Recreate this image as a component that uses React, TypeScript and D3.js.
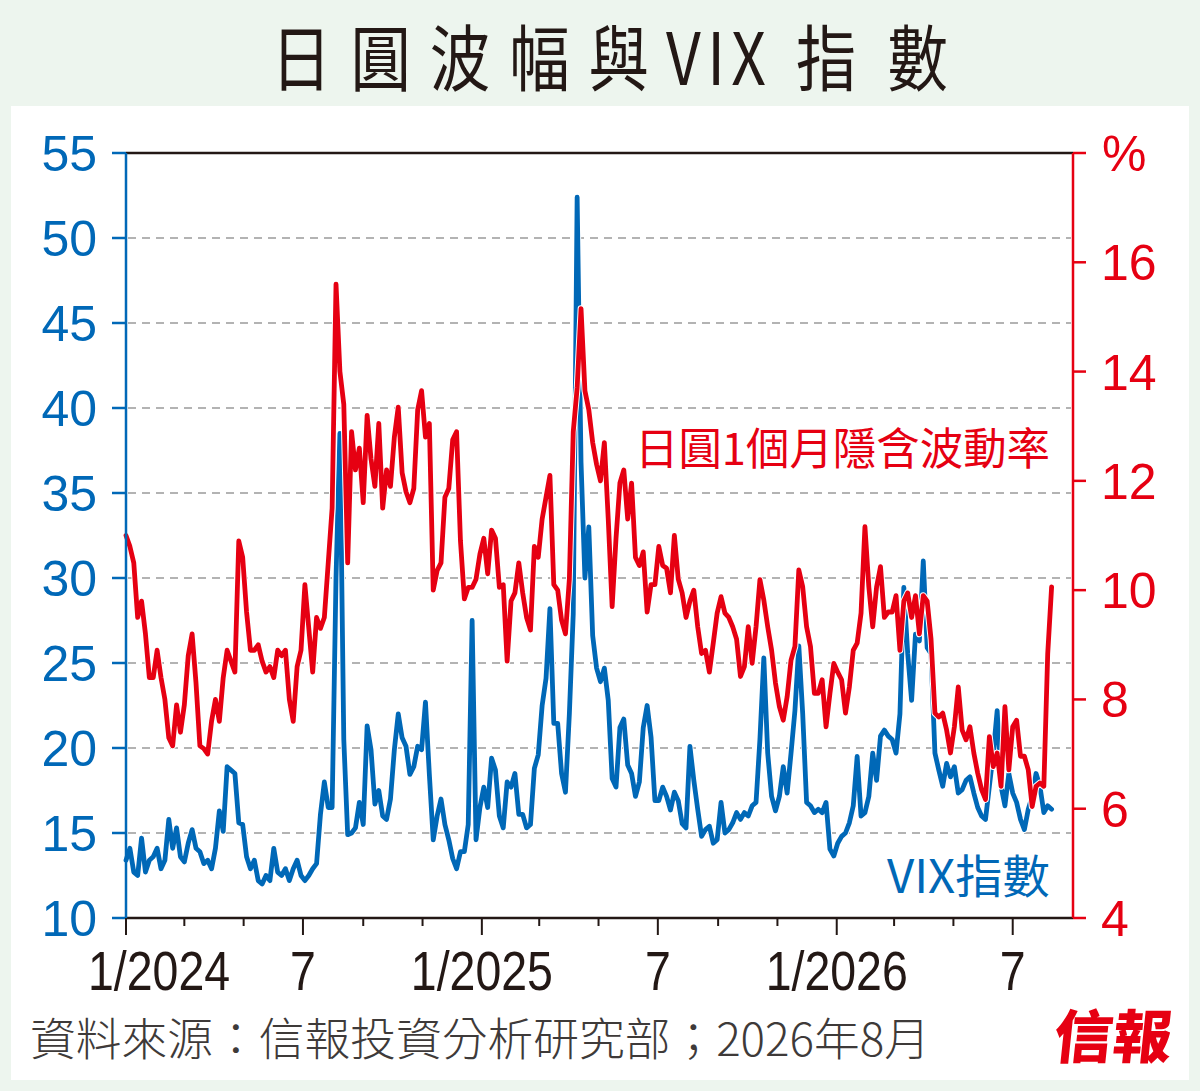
import React from 'react';
import * as d3 from 'd3';

// sampled every 4 days from the first trading day of 2024
const START = '2024-01-01';
const STEP_DAYS = 4;

// 日圓1個月隱含波動率 (%), right axis
const jpyVol = [
  11.0, 10.8, 10.5, 9.5, 9.8, 9.2, 8.4, 8.4, 8.9, 8.4, 8.0, 7.3, 7.15, 7.9, 7.4, 7.9, 8.8, 9.2, 8.3, 7.15,
  7.1, 7.0, 7.6, 8.0, 7.6, 8.4, 8.9, 8.7, 8.5, 10.9, 10.6, 9.6, 8.9, 8.9, 9.0, 8.7, 8.5, 8.6, 8.4, 8.9,
  8.8, 8.9, 8.0, 7.6, 8.6, 8.9, 10.1, 9.3, 8.5, 9.5, 9.3,
  9.5, 10.5, 11.5, 15.6, 14.0, 13.4, 10.5, 12.9, 12.2, 12.6, 11.6, 13.2, 12.4, 11.9, 13.05, 11.5, 12.2, 11.9, 12.8, 13.35,
  12.15, 11.8, 11.6, 11.86, 13.3, 13.65, 12.8, 13.05, 10.0, 10.36, 10.5, 11.7, 11.86, 12.75, 12.9, 10.9, 9.84, 10.05, 10.05, 10.2,
  10.66, 10.95, 10.3, 11.1, 10.95, 10.05,
  10.1, 8.7, 9.8, 9.95, 10.5, 9.95, 9.5, 9.27, 10.8, 10.6, 11.3, 11.7, 12.1, 10.1, 10.0, 9.45, 9.2, 10.2, 12.9, 13.7,
  15.15, 13.65, 13.3, 12.7, 12.3, 12.0, 12.7, 11.3, 9.7, 10.95, 11.96, 12.2, 11.3, 11.96, 10.6, 10.45, 10.7, 9.6, 10.1, 10.1,
  10.8, 10.45, 10.4, 9.95, 11.0, 10.2, 9.95, 9.5, 9.8,
  10.0, 9.33, 8.84, 8.9, 8.5, 9.03, 9.58, 9.88, 9.58, 9.5, 9.33, 9.1, 8.42, 8.6, 9.33, 8.66, 9.33, 10.19, 9.82, 9.33,
  8.9, 8.3, 7.87, 7.62, 8.05, 8.72, 8.97, 10.37, 10.06, 9.33, 8.97, 8.11, 8.11, 8.36, 7.5, 8.11, 8.66, 8.5, 8.36, 7.75,
  8.23, 8.9, 9.03, 9.58, 11.16, 10.06, 9.33, 10.06, 10.43,
  9.5, 9.6, 9.6, 9.9, 8.9, 9.8, 9.95, 9.5, 9.9, 9.2, 9.9, 9.8, 9.1, 7.75, 7.68, 7.75, 7.44, 7.02, 7.5, 8.23,
  7.44, 7.26, 7.5, 7.02, 6.65, 6.35, 6.17, 7.32, 6.77, 7.02, 6.41, 7.87, 6.71, 7.5, 7.62, 6.96, 6.96, 6.71, 6.04, 6.41,
  6.47, 6.41, 8.84, 10.06,
];

// VIX指數, left axis
const vix = [
  13.4, 14.1, 12.7, 12.5, 14.7, 12.7, 13.4, 13.6, 14.1, 12.9, 13.4, 15.8, 14.1, 15.3, 13.6, 13.3, 14.4, 15.2, 14.1, 13.9,
  13.2, 13.4, 12.9, 14.1, 16.3, 15.1, 18.9, 18.7, 18.5, 15.6, 15.5, 13.6, 12.9, 13.4, 12.2, 12.0, 12.5, 12.2, 14.1, 12.7,
  12.5, 12.9, 12.2, 12.9, 13.4, 12.5, 12.2, 12.5, 12.9, 13.2, 16.1,
  18.0, 16.5, 16.5, 30.0, 38.5, 20.5, 14.9, 15.0, 15.3, 16.8, 15.5, 21.3, 19.9, 16.7, 17.5, 16.0, 15.8, 17.0, 19.9, 22.0,
  20.6, 20.1, 18.45, 18.9, 20.1, 19.9, 22.7, 18.45, 14.6, 16.0, 17.0, 15.5, 14.6, 13.5, 12.9, 13.9, 13.9, 15.5, 27.5, 14.6,
  16.5, 17.7, 16.5, 19.4, 18.7, 16.0,
  15.3, 18.0, 17.7, 18.5, 16.1, 16.1, 15.3, 15.5, 18.8, 19.6, 22.5, 24.1, 28.2, 21.45, 21.45, 18.5, 17.4, 22.0, 27.9, 52.4,
  36.8, 30.0, 33.0, 26.6, 24.7, 23.9, 24.7, 22.8, 18.2, 17.7, 21.2, 21.7, 19.0, 18.5, 17.15, 18.0, 21.2, 22.5, 20.65, 16.9,
  16.9, 17.7, 17.15, 16.35, 17.4, 16.9, 15.55, 15.3, 20.1,
  18.1, 16.4, 14.8, 15.2, 15.4, 14.4, 14.6, 16.8, 15.0, 15.2, 15.6, 16.2, 15.8, 16.2, 16.0, 16.6, 16.8, 20.5, 25.3, 19.7,
  17.15, 16.3, 17.15, 18.9, 17.35, 19.7, 22.2, 26.0, 22.0, 16.8, 16.6, 16.2, 16.4, 16.2, 16.8, 14.05, 13.65, 14.4, 14.8, 15.0,
  15.6, 16.6, 19.5, 16.0, 16.2, 17.15, 19.7, 18.1, 20.7,
  21.05, 20.7, 20.5, 19.7, 22.0, 29.45, 25.55, 22.8, 26.7, 26.3, 31.0, 25.9, 25.55, 19.7, 18.7, 17.75, 19.1, 18.3, 18.9, 17.35,
  17.55, 18.1, 18.3, 17.35, 16.5, 16.0, 15.8, 17.75, 19.7, 22.2, 17.75, 16.6, 18.5, 17.35, 16.8, 15.8, 15.2, 16.4, 17.15, 18.5,
  17.75, 16.2, 16.6, 16.4,
];

const leftTicks = [10, 15, 20, 25, 30, 35, 40, 45, 50, 55];
const rightTicks = [4, 6, 8, 10, 12, 14, 16];
const xLabelDates = ['2024-01-01', '2024-07-01', '2025-01-01', '2025-07-01', '2026-01-01', '2026-07-01'];
const xLabelTexts = ['1/2024', '7', '1/2025', '7', '1/2026', '7'];

const BLUE = '#0068b7';
const RED = '#e60012';
const INK = '#231815';

const W = 1200;
const H = 1091;
const plot = { left: 126, right: 1073, top: 153, bottom: 918 };

const parse = d3.timeParse('%Y-%m-%d');

// title pieces: text, left edge, width
const titleParts: [string, number, number][] = [
  ['日圓波幅與', 271, 378],
  ['VIX', 666, 100],
  ['指數', 796, 152],
];

export default function App() {
  const start = parse(START)!;
  const x = d3.scaleTime()
    .domain([parse('2024-01-01')!, parse('2026-09-01')!])
    .range([plot.left, plot.right]);
  const yL = d3.scaleLinear().domain([10, 55]).range([plot.bottom, plot.top]);
  const yR = d3.scaleLinear().domain([4, 18]).range([plot.bottom, plot.top]);

  const dateAt = (i: number) => d3.timeDay.offset(start, i * STEP_DAYS);

  const vixLine = d3.line<number>()
    .x((_, i) => x(dateAt(i)))
    .y(d => yL(d));
  const volLine = d3.line<number>()
    .x((_, i) => x(dateAt(i)))
    .y(d => yR(d));

  const xTicks = d3.timeMonth.every(2)!.range(parse('2024-01-01')!, parse('2026-08-02')!);

  const font = 'Liberation Sans, Arial, sans-serif';
  const cjk = '"Noto Sans CJK TC", "Noto Sans CJK SC", sans-serif';
  const lw = 4.8;
  const sx = 0.84;

  return (
    <svg width={W} height={H} style={{ position: 'absolute', left: 0, top: 0, display: 'block' }}>
      <rect x={0} y={0} width={W} height={H} fill="#edf5ee" />
      <rect x={11} y={106} width={1178} height={974} fill="#ffffff" />

      {titleParts.map(([t, left, w]) => (
        <text key={t} transform={`translate(${left},85) scale(${sx},1)`} fontFamily={cjk} fontSize={72}
          fontWeight={400} fill={INK} textLength={w / sx} lengthAdjust="spacing">{t}</text>
      ))}

      {/* gridlines */}
      {leftTicks.filter(t => t > 10 && t < 55).map(t => (
        <line key={t} x1={plot.left + 2} x2={plot.right - 2} y1={yL(t)} y2={yL(t)}
          stroke="#9a9a9a" strokeWidth={1.5} strokeDasharray="8 6" />
      ))}

      <path d={vixLine(vix)!} fill="none" stroke="#ffffff" strokeWidth={lw + 2} strokeLinejoin="round" strokeLinecap="round" />
      <path d={vixLine(vix)!} fill="none" stroke={BLUE} strokeWidth={lw} strokeLinejoin="round" strokeLinecap="round" />
      <path d={volLine(jpyVol)!} fill="none" stroke="#ffffff" strokeWidth={lw + 2} strokeLinejoin="round" strokeLinecap="round" />
      <path d={volLine(jpyVol)!} fill="none" stroke={RED} strokeWidth={lw} strokeLinejoin="round" strokeLinecap="round" />

      {/* frame */}
      <line x1={plot.left} x2={plot.right} y1={plot.top} y2={plot.top} stroke={INK} strokeWidth={2.5} />
      <line x1={plot.left} x2={plot.right} y1={plot.bottom} y2={plot.bottom} stroke={INK} strokeWidth={2.5} />
      <line x1={plot.left} x2={plot.left} y1={plot.top} y2={plot.bottom} stroke={BLUE} strokeWidth={2.5} />
      <line x1={plot.right} x2={plot.right} y1={plot.top} y2={plot.bottom} stroke={RED} strokeWidth={2.5} />

      {/* left axis */}
      {leftTicks.map(t => (
        <g key={t}>
          <line x1={plot.left - 14} x2={plot.left} y1={yL(t)} y2={yL(t)} stroke={BLUE} strokeWidth={2.5} />
          <text x={97} y={yL(t)} dy="0.36em" textAnchor="end" fontFamily={font} fontSize={50} fill={BLUE}>{t}</text>
        </g>
      ))}

      {/* right axis */}
      {[...rightTicks, 18].map(t => (
        <line key={t} x1={plot.right} x2={plot.right + 13} y1={yR(t)} y2={yR(t)} stroke={RED} strokeWidth={2.5} />
      ))}
      {rightTicks.map(t => (
        <text key={t} x={1101} y={yR(t)} dy="0.36em" fontFamily={font} fontSize={50} fill={RED}>{t}</text>
      ))}
      <text x={1102} y={yR(18)} dy="0.36em" fontFamily={font} fontSize={50} fill={RED}>%</text>

      {/* x axis */}
      {xTicks.map((d, i) => {
        const major = d.getMonth() === 0 || d.getMonth() === 6;
        return (
          <line key={i} x1={x(d)} x2={x(d)} y1={plot.bottom} y2={plot.bottom + (major ? 17 : 8)}
            stroke={INK} strokeWidth={2} />
        );
      })}
      {xLabelDates.map((s, i) => {
        const cx = Math.max(x(parse(s)!), 159);
        return (
          <text key={s} transform={`translate(${cx},990) scale(0.83,1)`} textAnchor="middle"
            fontFamily={font} fontSize={56} fill={INK}>{xLabelTexts[i]}</text>
        );
      })}

      {/* series labels */}
      <text x={635} y={465} fontFamily={cjk} fontSize={44} fill={RED}
        textLength={415} lengthAdjust="spacingAndGlyphs">日圓1個月隱含波動率</text>
      <text x={887} y={893} fontFamily={cjk} fontSize={46} fill={BLUE}
        textLength={163} lengthAdjust="spacingAndGlyphs">VIX指數</text>

      {/* source */}
      <text x={30} y={1056} fontFamily={cjk} fontSize={45} fontWeight={300} fill="#3e3a39"
        textLength={900} lengthAdjust="spacingAndGlyphs">資料來源：信報投資分析研究部；2026年8月</text>
      <text transform="translate(1052,1058) skewX(-6)" fontFamily={cjk} fontSize={58} fontWeight={900} fill={RED}
        textLength={118} lengthAdjust="spacingAndGlyphs">信報</text>
    </svg>
  );
}
